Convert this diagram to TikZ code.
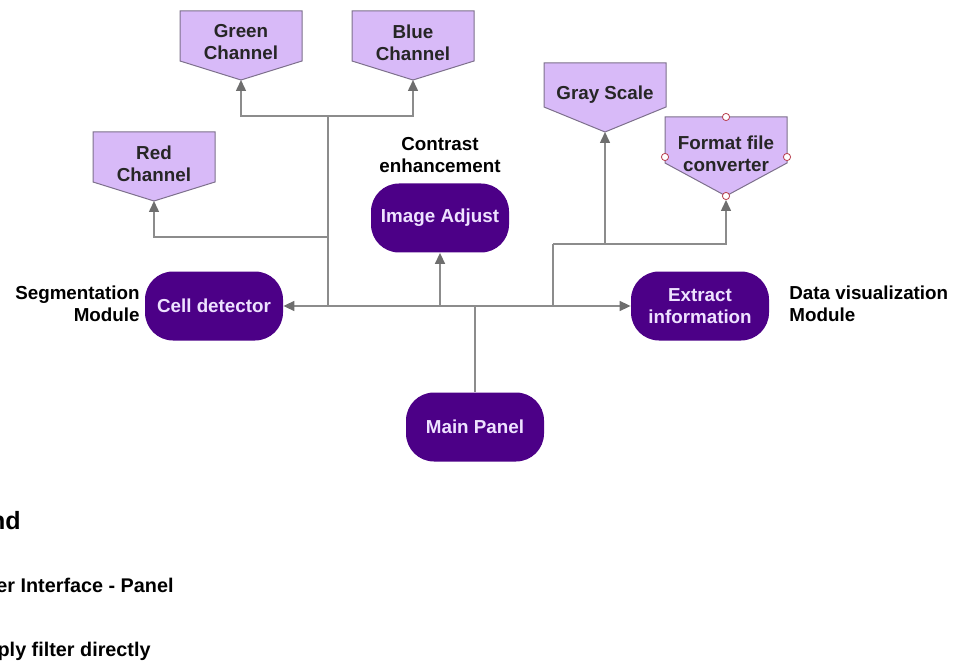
\documentclass[tikz,border=0pt]{standalone}
\usepackage{fontspec}
\setmainfont{Liberation Sans}
\usetikzlibrary{arrows.meta}
\definecolor{chanfill}{RGB}{216,186,248}
\definecolor{chanline}{RGB}{125,112,140}
\definecolor{panelfill}{RGB}{76,0,135}
\definecolor{paneltext}{RGB}{238,226,255}
\definecolor{linkgray}{RGB}{140,140,140}
\definecolor{tipgray}{RGB}{110,110,110}
\newcommand{\chanbox}[6]{%
  \draw[chanshape] (#2-61,#3) -- (#2+61,#3) -- (#2+61,#4) -- (#2,#5) -- (#2-61,#4) -- cycle;
  \node[chantext] (#1) at (#2,{(#3+#5)/2-3}) {#6};
  \coordinate (#1-tip) at (#2,#5);}
\begin{document}
\begin{tikzpicture}[x=0.5pt, y=-0.5pt,
  every node/.style={font=\bfseries\fontsize{9.4}{11}\selectfont, align=center, inner sep=0pt},
  chanshape/.style={fill=chanfill, draw=chanline, line width=0.5pt},
  chantext/.style={text=black!85},
  panel/.style={fill=panelfill, text=paneltext, rounded corners=14pt, minimum width=69pt, minimum height=34.5pt},
  link/.style={draw=linkgray, line width=0.75pt},
  tip/.style={-{Triangle[length=5.5pt, width=5pt, color=tipgray]}},
  pin/.style={circle, draw=red!45!chanline, fill=white, line width=0.4pt, minimum size=3.6pt},
  legitem/.style={anchor=base east, font=\bfseries\fontsize{9.9}{11}\selectfont}]
\useasboundingbox (0,0) rectangle (963,668);
\clip (0,0) rectangle (963,668);
\chanbox{green}{241}{11}{61}{80}{Green\\Channel}
\chanbox{blue}{413}{11}{61}{80}{Blue\\Channel}
\chanbox{red}{154}{132}{182}{201}{Red\\Channel}
\chanbox{gray}{605}{63}{107}{132}{Gray Scale}
\chanbox{format}{726}{117}{163}{196}{Format file\\converter}
\node[pin] (pin-n) at (726,117) {};
\node[pin] (pin-w) at (665,157) {};
\node[pin] (pin-e) at (787,157) {};
\node[pin] (pin-s) at (format-tip) {};
\node[panel] (adjust) at (440,218) {Image Adjust};
\node[panel] (cell) at (214,306) {Cell detector};
\node[panel] (extract) at (700,306) {Extract\\information};
\node[panel] (main) at (475,427) {Main Panel};
\node (contrast) at (440,155) {Contrast\\enhancement};
\node[anchor=east, align=right] (seg) at (140,304) {Segmentation\\Module};
\node[anchor=west, align=left] (dataviz) at (789,304) {Data visualization\\Module};
\node[anchor=base east, font=\bfseries\fontsize{12.5}{15}\selectfont] (legend) at (21,529) {Legend};
\node[legitem] (ui) at (174,592) {User Interface - Panel};
\node[legitem] (filter) at (151,656) {Apply filter directly};
\coordinate (bus-main) at (475,306);
\coordinate (bus-adj) at (440,306);
\coordinate (bus-rgb) at (328,306);
\coordinate (rgb-top) at (328,116);
\coordinate (red-branch) at (328,237);
\coordinate (bus-out) at (553,306);
\coordinate (out-top) at (553,244);
\draw[link] (main) -- (bus-main);
\draw[link, {Triangle[length=5.5pt, width=5pt, color=tipgray]}-{Triangle[length=5.5pt, width=5pt, color=tipgray]}] (cell) -- (extract);
\draw[link, tip] (bus-adj) -- (adjust);
\draw[link] (bus-rgb) -- (rgb-top);
\draw[link, tip] (rgb-top) -| (green-tip);
\draw[link, tip] (rgb-top) -| (blue-tip);
\draw[link, tip] (red-branch) -| (red-tip);
\draw[link] (bus-out) -- (out-top);
\draw[link, tip] (out-top) -| (gray-tip);
\draw[link, tip] (out-top) -| (pin-s);
\end{tikzpicture}
\end{document}
